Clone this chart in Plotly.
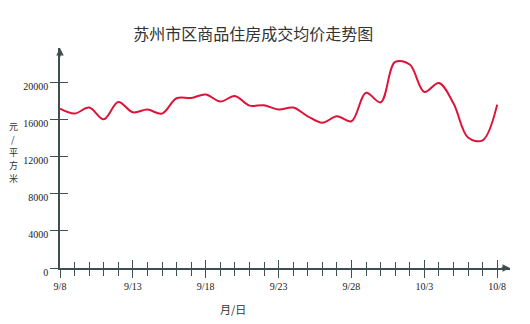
import plotly.graph_objects as go

days = list(range(31))
date_labels = ["9/8", "9/13", "9/18", "9/23", "9/28", "10/3", "10/8"]
date_ticks = [0, 5, 10, 15, 20, 25, 30]
prices = [17230, 16700, 17340, 16075, 17945, 16830, 17120, 16690, 18345, 18380,
          18755, 17990, 18590, 17555, 17590, 17135, 17340, 16400, 15700, 16400,
          15860, 18940, 17910, 22270, 21990, 19030, 20000, 17800, 14100, 13800,
          17660]
y_ticks = [0, 4000, 8000, 12000, 16000, 20000]
y_labels = ["0", "4000", "8000", "12000", "16000", "20000"]
y_title_chars = ["元", "/", "平", "方", "米"]
x_title = "月/日"
title = "苏州市区商品住房成交均价走势图"

AX = "#3f4f4f"
XR = [0, 30.88]
YR = [0, 23780]
num_font = dict(family="Liberation Serif", size=10, color="#222")

fig = go.Figure()
fig.add_trace(go.Scatter(x=days, y=prices, mode="lines",
                         line=dict(color="#dc1439", width=2, shape="spline", smoothing=1.0),
                         hoverinfo="skip", showlegend=False))
fig.add_trace(go.Scatter(x=[0], y=[0], xaxis="x2", yaxis="y2", mode="markers",
                         marker=dict(opacity=0), showlegend=False, hoverinfo="skip"))

annotations = [
    dict(xref="paper", yref="paper", x=0, y=1, ax=0, ay=10, showarrow=True,
         arrowhead=2, arrowsize=1, arrowwidth=1.5, arrowcolor=AX, text=""),
    dict(xref="paper", yref="paper", x=1, y=0, ax=-10, ay=0, showarrow=True,
         arrowhead=2, arrowsize=1, arrowwidth=1.5, arrowcolor=AX, text=""),
    dict(xref="paper", yref="paper", x=0.384, y=-0.187, yanchor="middle", showarrow=False,
         text=x_title, font=dict(family="Noto Sans CJK SC", size=11, color="#333")),
]
# stacked vertical axis title, one character per line, ~13 px apart
for i, ch in enumerate(y_title_chars):
    annotations.append(dict(xref="paper", yref="paper", x=-0.104, y=0.523 + (2 - i) * 0.059,
                            xanchor="center", yanchor="middle", showarrow=False, text=ch,
                            borderpad=0, font=dict(family="Noto Sans CJK SC", size=9, color="#333")))

fig.update_layout(
    width=530, height=324,
    margin=dict(l=60, r=20, t=48, b=56),
    paper_bgcolor="white", plot_bgcolor="white",
    title=dict(text=title, x=0.478, xanchor="center", y=0.895, yanchor="middle",
               font=dict(family="Noto Sans CJK SC", size=16, color="#333")),
    xaxis=dict(range=XR, showgrid=False, zeroline=False, showline=True, linecolor=AX, linewidth=1.5,
               tickmode="array", tickvals=date_ticks, ticktext=date_labels,
               ticks="outside", ticklen=8, tickwidth=1.3, tickcolor=AX, tickfont=num_font,
               minor=dict(dtick=1, tick0=0, ticks="outside", ticklen=6, tickwidth=1.2, tickcolor=AX, showgrid=False)),
    xaxis2=dict(range=XR, overlaying="x", side="bottom", showgrid=False, zeroline=False, showline=False,
                tickmode="array", tickvals=date_ticks, showticklabels=False,
                ticks="inside", ticklen=8, tickwidth=1.3, tickcolor=AX,
                minor=dict(dtick=1, tick0=0, ticks="inside", ticklen=6, tickwidth=1.2, tickcolor=AX, showgrid=False)),
    yaxis=dict(range=YR, showgrid=False, zeroline=False, showline=True, linecolor=AX, linewidth=1.5,
               tickmode="array", tickvals=y_ticks, ticktext=y_labels, ticks="outside", ticklen=8, tickwidth=1.3,
               tickcolor=AX, tickfont=num_font, ticklabelshift=4),
    yaxis2=dict(range=YR, overlaying="y", side="left", showgrid=False, zeroline=False, showline=False,
                tickmode="array", tickvals=y_ticks, showticklabels=False,
                ticks="inside", ticklen=8, tickwidth=1.3, tickcolor=AX),
    annotations=annotations,
)

fig.write_html("out.html")
